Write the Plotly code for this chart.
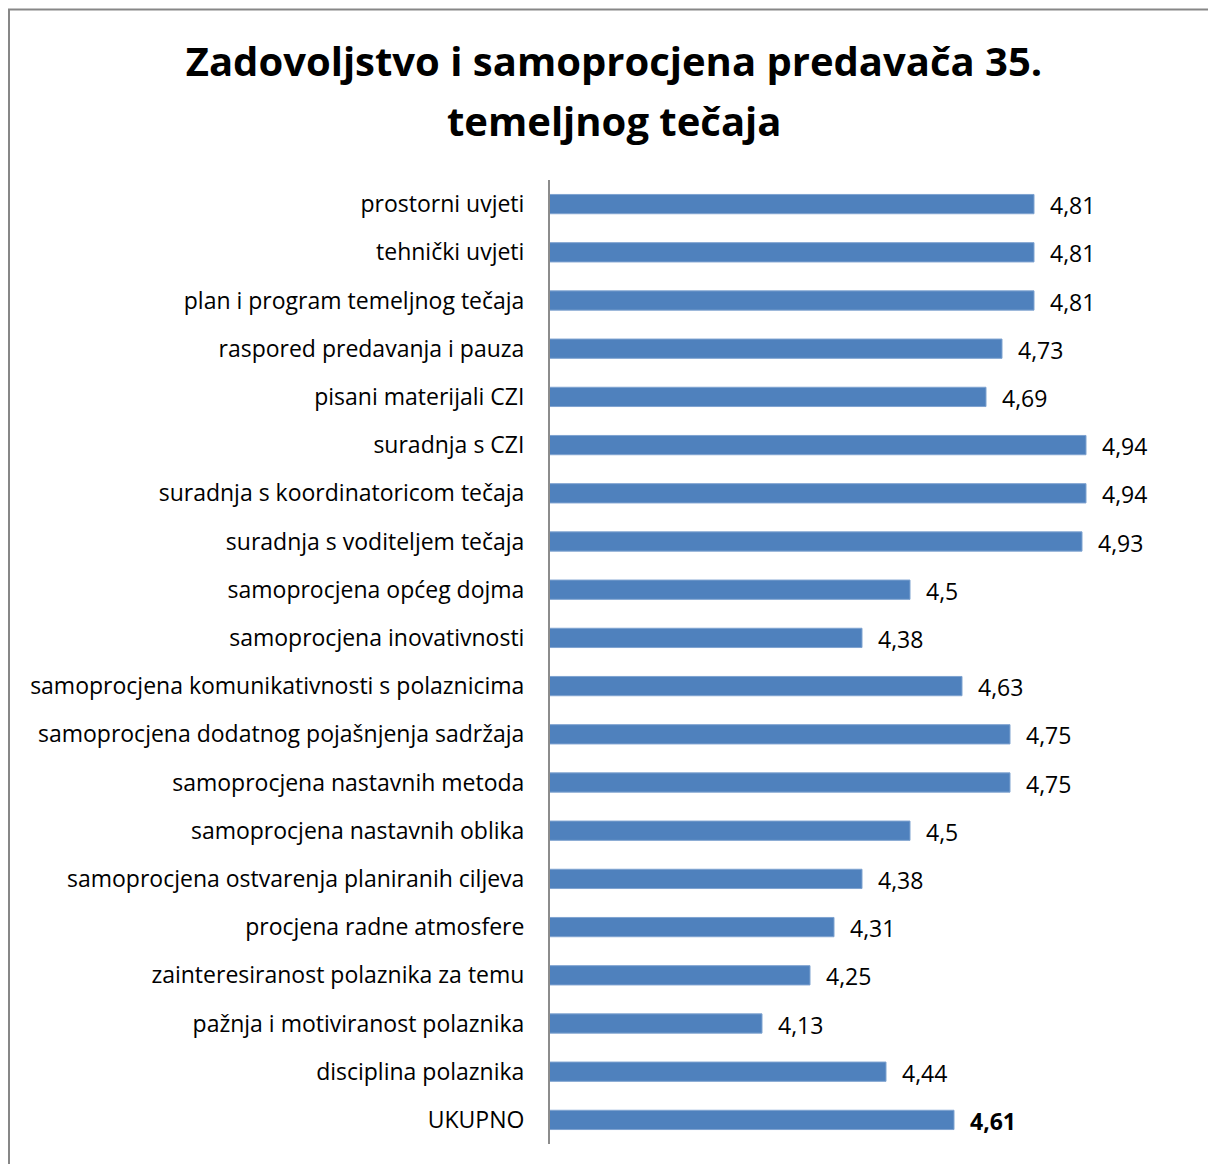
import plotly.graph_objects as go

categories = [
    "prostorni uvjeti",
    "tehnički uvjeti",
    "plan i program temeljnog tečaja",
    "raspored predavanja i pauza",
    "pisani materijali CZI",
    "suradnja s CZI",
    "suradnja s koordinatoricom tečaja",
    "suradnja s voditeljem tečaja",
    "samoprocjena općeg dojma",
    "samoprocjena inovativnosti",
    "samoprocjena komunikativnosti s polaznicima",
    "samoprocjena dodatnog pojašnjenja sadržaja",
    "samoprocjena nastavnih metoda",
    "samoprocjena nastavnih oblika",
    "samoprocjena ostvarenja planiranih ciljeva",
    "procjena radne atmosfere",
    "zainteresiranost polaznika za temu",
    "pažnja i motiviranost polaznika",
    "disciplina polaznika",
    "UKUPNO",
]
values = [4.81, 4.81, 4.81, 4.73, 4.69, 4.94, 4.94, 4.93, 4.5, 4.38,
          4.63, 4.75, 4.75, 4.5, 4.38, 4.31, 4.25, 4.13, 4.44, 4.61]
title_lines = ["Zadovoljstvo i samoprocjena predavača 35.", "temeljnog tečaja"]

FONT = "Open Sans"
W, H = 1208, 1164
L, R, T, B = 550, 18, 180, 20
pw, ph = W - L - R, H - T - B

fig = go.Figure(go.Bar(
    x=values, y=categories, orientation="h",
    marker=dict(color="#4F81BD", line=dict(color="#7FA3D0", width=1)),
    hoverinfo="x+y",
))

def px_to_paper_x(px):
    return (px - L) / pw

def py_to_paper_y(py):
    return (H - B - py) / ph

annotations = []
for i, (c, v) in enumerate(zip(categories, values)):
    txt = f"{v:g}".replace(".", ",")
    if c == "UKUPNO":
        txt = f"<b>{txt}</b>"
    annotations.append(dict(x=v, y=c, xref="x", yref="y", text=txt, showarrow=False,
                            xanchor="left", yanchor="middle", xshift=14, yshift=-1,
                            font=dict(family=FONT, size=23, color="black")))

annotations.append(dict(x=px_to_paper_x(614), y=py_to_paper_y(120), xref="paper", yref="paper",
                        text=f"<b>{title_lines[1]}</b>", showarrow=False,
                        xanchor="center", yanchor="middle",
                        font=dict(family=FONT, size=40, color="black")))

fig.update_layout(
    width=W, height=H,
    margin=dict(l=L, r=R, t=T, b=B),
    paper_bgcolor="white", plot_bgcolor="white",
    showlegend=False,
    bargap=0.6,
    title=dict(text=f"<b>{title_lines[0]}</b>",
               x=614 / W, xanchor="center", y=1 - 62 / H, yanchor="middle",
               font=dict(family=FONT, size=40, color="black")),
    xaxis=dict(range=[3.6, 5.2], visible=False, fixedrange=True),
    yaxis=dict(autorange="reversed", showline=True, linecolor="#8C8C8C", linewidth=2,
               ticks="", showgrid=False, ticklabelstandoff=19,
               tickfont=dict(family=FONT, size=23, color="black")),
    annotations=annotations,
    shapes=[dict(type="rect", xref="paper", yref="paper",
                 x0=px_to_paper_x(9), x1=px_to_paper_x(W + 20),
                 y0=py_to_paper_y(H + 20), y1=py_to_paper_y(9.5),
                 line=dict(color="#878787", width=2), fillcolor="rgba(0,0,0,0)",
                 layer="below")],
    font=dict(family=FONT),
)

fig.write_html("out.html", config={"displayModeBar": False},
               post_script="document.body.style.margin='0';")
